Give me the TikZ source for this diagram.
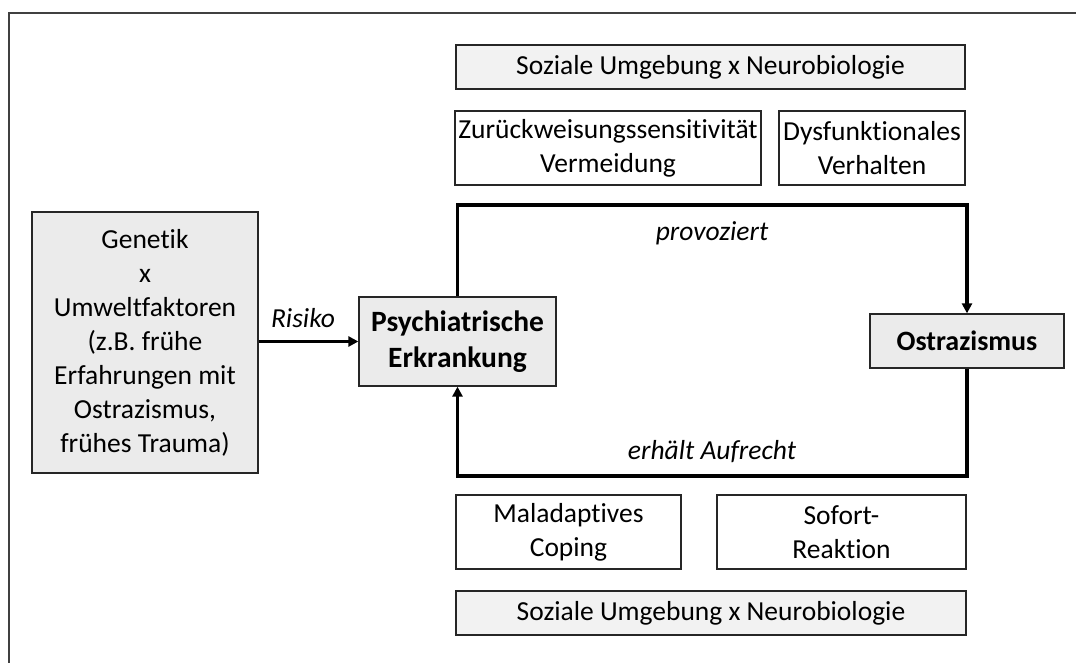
\documentclass[tikz,border=0pt]{standalone}
\usepackage{fontspec}
\setmainfont{Carlito}[RawFeature={-liga;-clig}]
\usetikzlibrary{arrows.meta}
\begin{document}
\begin{tikzpicture}[x=1pt,y=-1pt,
  every node/.style={font=\fontsize{27.5}{34}\selectfont, align=center, inner sep=0pt},
  box/.style={draw=black!85, line width=1.3pt, rectangle, fill=white},
  graybox/.style={box, fill=black!8},
  lightbox/.style={box, fill=black!5},
  boldtxt/.style={font=\fontsize{29.5}{36}\selectfont\bfseries},
  boldsmall/.style={font=\fontsize{28}{34}\selectfont\bfseries},
  link/.style={line width=3.5pt, draw=black, -{Triangle[length=10pt,width=10pt]}},
  lbl/.style={font=\fontsize{27.5}{34}\selectfont\itshape}]
\useasboundingbox (0,0) rectangle (1076,663);
\draw[line width=2.2pt, black!75] (9,663) -- (9,13) -- (1076,13);

\node[lightbox, minimum width=509pt, minimum height=44pt] (soz1) at (710.5,67) {Soziale Umgebung x Neurobiologie};
\node[box, minimum width=306pt, minimum height=74pt] (zur) at (608,148) {Zurückweisungssensitivität\\Vermeidung};
\node[box, minimum width=186pt, minimum height=74pt] (dys) at (872,148) {Dysfunktionales\\Verhalten};

\node[graybox, minimum width=226pt, minimum height=261pt] (gen) at (145,342.5) {Genetik\\x\\Umweltfaktoren\\(z.B. frühe\\Erfahrungen mit\\Ostrazismus,\\ frühes Trauma)};
\node[graybox, boldtxt, minimum width=197pt, minimum height=89pt] (psy) at (457.5,341.5) {Psychiatrische\\Erkrankung};
\node[graybox, boldsmall, minimum width=194pt, minimum height=54pt] (ost) at (967,341) {Ostrazismus};

\node[box, minimum width=225pt, minimum height=74pt] (mal) at (568.5,532) {Maladaptives\\Coping};
\node[box, minimum width=249pt, minimum height=74pt] (sof) at (841.5,532) {Sofort-\\Reaktion};
\node[lightbox, minimum width=510pt, minimum height=44pt] (soz2) at (711,613) {Soziale Umgebung x Neurobiologie};

\coordinate (top) at (0,205);
\coordinate (bot) at (0,476);
\draw[link] (psy.north) -- (psy.north |- top) -- (ost.north |- top) -- (ost.north);
\draw[link] (ost.south) -- (ost.south |- bot) -- (psy.south |- bot) -- (psy.south);
\draw[link] (gen.east |- psy.west) -- (psy.west);

\node[lbl] (risiko) at (303,318) {Risiko};
\node[lbl] (prov) at (712,233) {provoziert};
\node[lbl] (erh) at (712,452) {erhält Aufrecht};
\end{tikzpicture}
\end{document}
